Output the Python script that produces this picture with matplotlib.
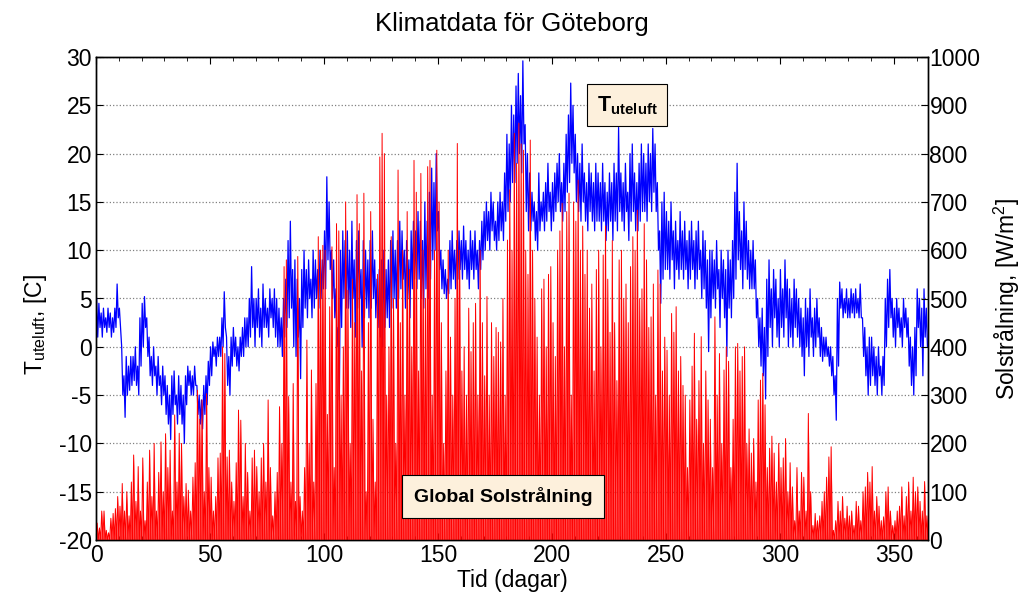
import matplotlib
matplotlib.use('Agg')
import matplotlib.pyplot as plt
from matplotlib.ticker import MultipleLocator
import numpy as np

plt.rcParams['font.family'] = ['Liberation Sans', 'DejaVu Sans']
plt.rcParams['mathtext.fontset'] = 'custom'
plt.rcParams['mathtext.rm'] = 'Liberation Sans'
plt.rcParams['mathtext.it'] = 'Liberation Sans:italic'
plt.rcParams['mathtext.bf'] = 'Liberation Sans:bold'
plt.rcParams['axes.unicode_minus'] = False

# utetemperatur, dygnets max och min [C], dag 0..364
t_max = [5, 4.5, 3.5, 4, 3, 4, 3.5, 3, 4, 6.5,
         4, 0, -3, -1, -2, -1, -1, 0, -2, 3,
         4.5, 5.2, 3, 1, -1, 0, -2, -1, -3, -2,
         -3, -4, -5, -3, -2.5, -5, -3, -4, -5, -3,
         -2, -2.5, -3, -2, -4, -5, -5.5, -4, -3, -1.5,
         0, 0.5, 0, 1, 1, 3, 5.7, 1, -1, 1,
         2, 1, 0, 1, 2, 3, 3, 5, 8.3, 5,
         5, 6, 4, 6.5, 5, 4, 6, 5, 6, 5,
         4, 3, 5, 7, 11, 13, 8, 9, 7, 5,
         8, 10, 8, 9, 7, 10, 9, 8, 10, 9,
         12, 17.6, 15, 10, 9, 6, 2, 10, 12, 11,
         12, 10, 13, 9, 11, 12, 8, 11, 10, 9,
         11, 12, 9, 7, 8, 9, 10, 8, 9, 11,
         12, 10, 11, 13, 12, 10, 11, 9, 12, 13,
         12, 14, 13, 11, 15, 13, 16, 18.5, 17, 20,
         14, 10, 9, 8, 7, 11, 12, 10, 11, 12,
         11, 12.5, 11, 10, 12, 11, 12, 10, 11, 13,
         14, 15, 14, 16, 15, 13, 15, 16, 15, 18,
         22, 21, 25, 24, 27, 28.3, 26, 29.6, 23, 20,
         18, 16, 15, 14, 18, 15, 16, 17, 19, 16,
         17, 18, 19, 20, 17, 19, 22, 24, 27.3, 25,
         22, 20, 19, 21, 18, 17, 19, 18, 17, 19,
         18, 17, 19, 17, 16, 18, 17, 19, 18, 22.7,
         18, 17, 19, 16, 20, 21, 18, 17, 19, 21,
         20, 19, 21, 20, 22.6, 21, 17, 12, 15, 16,
         14, 13, 15, 12, 13, 11, 14, 12, 13, 11,
         12, 13, 11, 12, 13, 10, 12, 11, 9, 10,
         10, 9, 11, 8, 10, 9, 8, 10, 9, 11,
         16, 19, 14, 12, 15, 13, 11, 10, 11, 9,
         5, 3, 4, 2, 7, 9, 6, 8, 7, 5,
         8, 6, 9, 7, 6, 5, 7, 6, 5, 4,
         3, 5, 4, 6, 3, 4, 5, 3, 2, 1,
         1, 0, 0, -1, -3, 5, 6.7, 6, 5, 6,
         5, 6, 5.5, 6, 5, 6.5, 3, 2, 0, 1,
         1, 0, -1, 0, -2, -1, 5, 7, 8, 5,
         4, 5, 4, 3, 5, 4, 3, 1, 0, 2,
         6, 5, 4, 6, 4]
t_min = [1, 2, 1, 2, 1.5, 2, 1, 1.5, 2, 3,
         2, -5, -7.3, -5, -4.5, -4, -3.5, -4, -5, -2,
         0, 2, -1, -3, -4, -3, -5, -4, -6, -5,
         -7, -8, -9.6, -7, -6, -8, -7, -8, -10, -6,
         -4, -5, -5, -4, -7, -8, -8.5, -7, -6, -4,
         -3, -1, -2, -1, -1, 0, 2, -4, -5, -2,
         -1, -2, -2.5, -1, -1, 0, 0, 1, 2, 0,
         2, 1, 0, 2, 2, 1, 3, 2, 1, 0,
         0, -1, 1, 2, 3, 4, 0, -1, 1, -3.3,
         2, 4, 3, 5, 3, 4, 5, 4, 5, 6,
         6, 9, 8, 5, 3, 0, -5.5, 2, 5, 4,
         4, 2, 5, 1, 4, 5, 0, 3, 4, 3,
         4, 5, 3, 2, 1, 0, 2, 3, 2, 4,
         5, 4, 5, 6, 7, 4, 5, 3, 6, 7,
         6, 7, 5, 4, 6, 5, 7, 9, 10, 12,
         8, 6, 5.5, 5, 5.5, 6, 7, 6, 7, 8,
         7, 8, 7, 6, 8, 7, 8, 6, 8, 9,
         10, 11, 10, 12, 11, 10, 11, 12, 11, 13,
         14, 15, 17, 17, 19, 20, 18, 21, 14, 12,
         12, 13, 11, 10, 12, 13, 12, 13, 14, 12,
         13, 14, 15, 14, 13, 14, 16, 17, 19, 18,
         15, 14, 13, 15, 13, 12, 14, 13, 12, 13,
         13, 12, 13, 11, 12, 13, 11, 13, 12, 14,
         13, 12, 14, 11, 13, 14, 12, 12, 13, 14,
         14, 13, 15, 14, 16, 14, 10, 4.5, 7, 8,
         8, 7, 9, 6, 8, 7, 8, 7, 8, 6,
         7, 8, 6, 7, 8, 5, 6, 4, -0.5, 3,
         5, 4, 6, 2, 5, 3, -1, 4, 3, 5,
         7, 9, 8, 6, 8, 7, 6, 6, 6, 3,
         0, -2, -3, -5.4, -1, 2, 0, 3, 1, 0,
         2, 1, 3, 0, 1, 0, 2, 1, 0, -1,
         -3, 0, -1, 1, -1, 0, 1, -1, -1.5, -1,
         -1, -2, -3, -5, -7.6, -2, 4, 3, 3.5, 3,
         3, 3.5, 3, 3.5, 3, 3, -1, -3, -5, -4,
         -3, -4, -5, -3, -5, -4, 0, 2, 3, 1,
         0, 2, 1, 0, 2, 1, -2, -4, -5, -3,
         2, 0, -3, 1, 0]

# global solstrålning, dygnets maxvärde [W/m2]
sol_max = [35, 25, 60, 60, 20, 15, 45, 55, 65, 90,
           70, 117, 60, 100, 50, 120, 176, 80, 152, 60,
           170, 40, 120, 186, 90, 200, 60, 140, 203, 100,
           220, 150, 186, 60, 259, 120, 221, 200, 90, 117,
           103, 60, 130, 160, 310, 250, 290, 100, 303, 150,
           130, 60, 90, 170, 180, 400, 386, 172, 186, 120,
           80, 160, 269, 248, 90, 200, 140, 60, 170, 186,
           152, 100, 170, 200, 120, 290, 150, 50, 100, 140,
           276, 200, 566, 580, 297, 120, 324, 80, 587, 90,
           60, 150, 414, 200, 352, 120, 324, 628, 600, 610,
           600, 260, 483, 607, 150, 655, 640, 300, 400, 700,
           517, 200, 540, 450, 715, 655, 350, 718, 100, 450,
           680, 250, 120, 550, 793, 842, 800, 300, 400, 628,
           500, 200, 766, 450, 600, 300, 680, 560, 400, 786,
           720, 350, 759, 600, 500, 773, 786, 300, 600, 807,
           700, 450, 200, 350, 600, 420, 300, 500, 821, 600,
           350, 400, 300, 480, 390, 450, 490, 300, 600, 450,
           340, 504, 300, 450, 380, 440, 430, 410, 500, 300,
           621, 725, 600, 842, 780, 863, 820, 807, 600, 550,
           828, 600, 500, 420, 300, 520, 540, 400, 550, 566,
           450, 380, 600, 640, 697, 400, 680, 718, 300, 700,
           660, 745, 600, 650, 550, 600, 480, 530, 350, 560,
           600, 400, 590, 650, 540, 430, 620, 450, 330, 580,
           600, 500, 530, 450, 566, 628, 600, 683, 500, 520,
           655, 580, 440, 462, 530, 300, 559, 530, 350, 420,
           393, 300, 469, 430, 483, 350, 380, 320, 300, 150,
           290, 360, 428, 250, 330, 421, 200, 350, 290, 250,
           150, 462, 300, 386, 200, 352, 400, 370, 150, 250,
           400, 407, 350, 380, 400, 200, 230, 180, 210, 120,
           290, 331, 345, 280, 150, 190, 215, 180, 120, 200,
           150, 170, 210, 100, 160, 110, 40, 150, 60, 140,
           130, 60, 262, 100, 30, 55, 40, 50, 80, 100,
           130, 172, 193, 20, 40, 80, 60, 90, 45, 70,
           50, 60, 30, 80, 70, 40, 100, 110, 140, 120,
           152, 60, 90, 70, 40, 48, 100, 110, 60, 30,
           40, 60, 70, 110, 50, 90, 120, 60, 130, 100,
           110, 80, 60, 121, 50]

dagar = np.arange(len(t_max))

# max och min varvas inom varje dygn
t_x = np.column_stack([dagar + 0.25, dagar + 0.75]).ravel()
t_y = np.column_stack([t_max, t_min]).ravel()

# solen: noll vid dygnsgräns, topp mitt på dagen
s_x = np.append(np.column_stack([dagar, dagar + 0.5]).ravel(), len(dagar))
s_y = np.append(np.column_stack([np.zeros(len(dagar)), sol_max]).ravel(), 0)

fs = 16.5

fig = plt.figure(figsize=(10.26, 6.0), dpi=100)
ax = fig.add_axes([0.0936, 0.1, 0.8109, 0.805])
ax2 = ax.twinx()

ax.plot(t_x, t_y, color='blue', lw=0.9)
ax2.fill_between(s_x, 0, s_y, color='red', alpha=0.77, lw=0)
ax2.plot(s_x, s_y, color='red', lw=0.7)

ax.set_xlim(0, 365)
ax.set_ylim(-20, 30)
ax2.set_ylim(0, 1000)
ax.xaxis.set_major_locator(MultipleLocator(50))
ax.xaxis.set_minor_locator(MultipleLocator(10))
ax.yaxis.set_major_locator(MultipleLocator(5))
ax2.yaxis.set_major_locator(MultipleLocator(100))

ax.tick_params(axis='x', which='both', direction='in', top=True, labelsize=fs, pad=3)
ax.tick_params(axis='x', which='major', length=5)
ax.tick_params(axis='x', which='minor', length=3)
ax.tick_params(axis='y', direction='in', length=5, labelsize=fs, pad=3)
ax2.tick_params(axis='y', direction='in', length=5, labelsize=fs, pad=1)

ax.grid(True, axis='y', color='gray', linestyle=':', lw=0.9)
ax.set_axisbelow(True)
for a in (ax, ax2):
    for s in a.spines.values():
        s.set_linewidth(1.0)

ax.set_title('Klimatdata för Göteborg', fontsize=18.5, pad=19)
ax.set_xlabel('Tid (dagar)', fontsize=fs, labelpad=1)
ax.set_ylabel(r'T$_{\mathrm{uteluft}}$, [C]', fontsize=fs)
ax.yaxis.set_label_coords(-0.056, 0.445)
ax2.set_ylabel(r'Solstrålning, [W/m$^{2}$]', fontsize=fs, labelpad=8)

boxstyle = dict(boxstyle='square,pad=0.45', facecolor='#fdf0dc', edgecolor='black', lw=0.8)
ax.text(233, 25.0, r'$\mathbf{T}_{\mathbf{uteluft}}$', fontsize=15.5, ha='center', va='center',
        bbox=boxstyle, zorder=10)
ax2.text(178.5, 90, 'Global Solstrålning', fontsize=14, fontweight='bold', ha='center',
         va='center', bbox=dict(boxstyle='square,pad=0.6', facecolor='#fdf0dc',
                                edgecolor='black', lw=0.8), zorder=10)

fig.savefig('out.png', dpi=100)
